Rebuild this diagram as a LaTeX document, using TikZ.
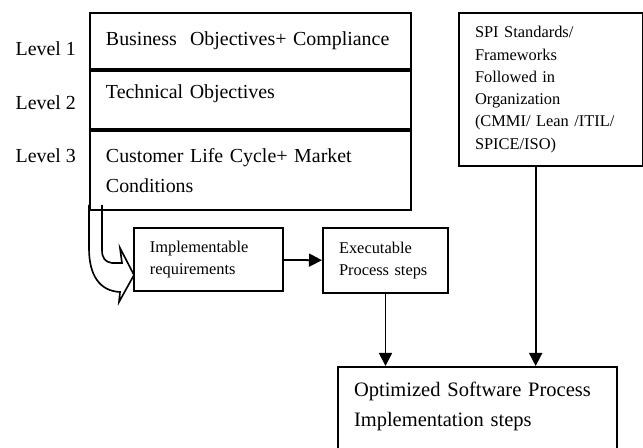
\documentclass[tikz,border=0pt]{standalone}
\usepackage{fontspec}
\setmainfont{Liberation Serif}
\usetikzlibrary{arrows.meta}

\begin{document}
\begin{tikzpicture}[x=0.3mm, y=-0.3mm]
        \tikzset{box/.style = {draw, line width=1.7pt, anchor=north west, align=left, inner xsep=4.8mm, inner ysep=0pt}}
        \tikzset{big/.style = {font=\fontsize{17}{25.5}\selectfont}}
        \tikzset{small/.style = {font=\fontsize{14}{19}\selectfont}}
        \tikzset{arrow/.style = {-{Triangle[length=3.9mm, width=3.9mm]}, line width=1.5pt}}

        \useasboundingbox (0, 0) rectangle (643, 448);
        \clip (0, 0) rectangle (643, 448);

        % the three levels
        \node[box, big, text width=86.7mm, minimum height=16.8mm] (lvl1) at (89, 12) {Business\ \ Objectives+ Compliance};
        \node[box, big, text width=86.7mm, minimum height=17.4mm, text depth=14pt] (lvl2) at (lvl1.south west) {Technical Objectives};
        \node[box, big, text width=86.7mm, minimum height=23.7mm] (lvl3) at (lvl2.south west) {Customer Life Cycle+ Market\\Conditions};

        \node[big, anchor=base east] (l1) at (80, 56) {Level 1};
        \node[big, anchor=base east] (l2) at (80, 110) {Level 2};
        \node[big, anchor=base east] (l3) at (80, 163) {Level 3};

        \node[box, small, text width=45.6mm, minimum height=45.9mm] (spi) at (458, 12) {SPI Standards/\\Frameworks\\Followed in\\Organization\\(CMMI/ Lean /ITIL/\\SPICE/ISO)};

        \node[box, small, text width=35.1mm, minimum height=19mm] (impl) at (133, 227) {Implementable\\requirements};
        \node[box, small, text width=27.9mm, minimum height=19.5mm] (exec) at (322, 227) {Executable\\Process steps};

        \node[box, font=\fontsize{17.5}{25.5}\selectfont, text width=74.1mm, text height=25.5pt, text depth=88pt] (opt) at (337, 366) {Optimized Software Process\\Implementation steps};

        % bent block arrow from the levels into the requirements
        \draw[line width=1.4pt, line join=miter] (89, 205) -- (89, 248) .. controls (89, 276) and (100, 291) .. (120, 292)
            -- (119, 302) -- (134, 275) -- (120, 248) -- (122, 263) -- (112, 263)
            .. controls (105, 262) and (102, 258) .. (102, 250) -- (102, 205);

        \draw (impl) edge[arrow] (exec);
        \draw (exec.south) edge[arrow] (exec.south |- opt.north);
        \draw ([xshift=-4.6mm]spi.south) edge[arrow] ([xshift=-4.6mm]spi.south |- opt.north);

    \end{tikzpicture}
\end{document}
